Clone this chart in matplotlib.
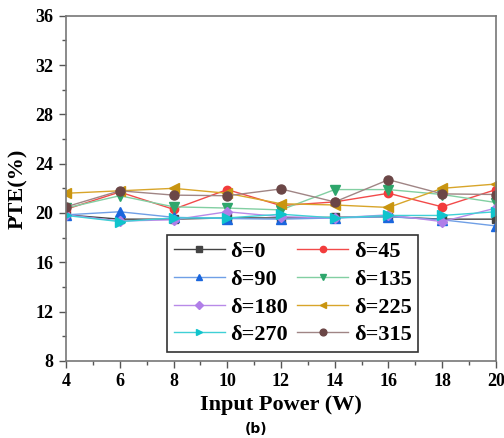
"""PTE versus input power for several phase offsets."""

import matplotlib.pyplot as plt
from matplotlib.ticker import MultipleLocator

power_w = [4, 6, 8, 10, 12, 14, 16, 18, 20]

pte_d0 = [19.85, 19.5, 19.5, 19.6, 19.6, 19.65, 19.7, 19.5, 19.5]
pte_d45 = [20.3, 21.7, 20.3, 21.9, 20.6, 20.9, 21.6, 20.5, 21.9]
pte_d90 = [19.85, 20.1, 19.65, 19.55, 19.5, 19.6, 19.7, 19.45, 18.95]
pte_d135 = [20.4, 21.4, 20.5, 20.4, 20.25, 21.9, 21.9, 21.5, 20.85]
pte_d180 = [19.85, 19.35, 19.45, 20.1, 19.7, 19.6, 19.85, 19.3, 20.4]
pte_d225 = [21.6, 21.8, 22.0, 21.6, 20.75, 20.65, 20.45, 22.0, 22.35]
pte_d270 = [19.8, 19.3, 19.6, 19.6, 19.9, 19.6, 19.8, 19.8, 20.1]
pte_d315 = [20.5, 21.8, 21.45, 21.4, 21.95, 20.9, 22.7, 21.55, 21.5]

labels = ["δ=0", "δ=45", "δ=90", "δ=135", "δ=180", "δ=225", "δ=270", "δ=315"]
series = [pte_d0, pte_d45, pte_d90, pte_d135, pte_d180, pte_d225, pte_d270, pte_d315]

# (line colour, marker colour, marker, marker size)
styles = [
    ("#444444", "#444444", "s", 5.5),
    ("#f24a4a", "#f23c3c", "o", 6),
    ("#6f9fe6", "#1a66dd", "^", 6.5),
    ("#82cfa2", "#2ea66c", "v", 6.5),
    ("#b88ae8", "#b07ee8", "D", 5),
    ("#d8a52a", "#c99510", "<", 6.5),
    ("#3fd0d6", "#10c4cc", ">", 6.5),
    ("#a08585", "#6b4646", "o", 6.5),
]

serif = ["Liberation Serif", "DejaVu Serif"]

fig = plt.figure(figsize=(5.04, 4.38), dpi=100)
ax = fig.add_axes([0.131, 0.176, 0.853, 0.788])

for vals, lab, (lc, mc, mk, ms) in zip(series, labels, styles):
    ax.plot(power_w, vals, color=lc, lw=1.0, marker=mk, ms=ms,
            markerfacecolor=mc, markeredgecolor=mc, label=lab)

ax.set_xlim(4, 20)
ax.set_ylim(8, 36)
ax.xaxis.set_major_locator(MultipleLocator(2))
ax.xaxis.set_minor_locator(MultipleLocator(1))
ax.yaxis.set_major_locator(MultipleLocator(4))
ax.yaxis.set_minor_locator(MultipleLocator(2))
ax.tick_params(which="major", direction="out", length=5, width=1, color="#555555", pad=4)
ax.tick_params(which="minor", direction="out", length=3, width=1, color="#555555")
ax.tick_params(top=False, right=False)
for sp in ax.spines.values():
    sp.set_color("#777777")
    sp.set_linewidth(1.2)

for lbl in ax.get_xticklabels() + ax.get_yticklabels():
    lbl.set_fontfamily(serif)
    lbl.set_fontweight("bold")
    lbl.set_fontsize(13)

ax.set_xlabel("Input Power (W)", fontfamily=serif, fontweight="bold", fontsize=16, labelpad=3)
ax.set_ylabel("PTE(%)", fontfamily=serif, fontweight="bold", fontsize=16, labelpad=5)

# legend laid out row by row: 0,45 / 90,135 / 180,225 / 270,315
order = [0, 2, 4, 6, 1, 3, 5, 7]
leg_handles = []
for i in order:
    (lh,) = ax.plot([], [], color=styles[i][0], lw=1.0, marker=styles[i][2],
                    ms=styles[i][3] * 0.75, markerfacecolor=styles[i][1],
                    markeredgecolor=styles[i][1])
    leg_handles.append(lh)
leg = ax.legend(leg_handles, [labels[i] for i in order],
                ncol=2, loc="lower left", bbox_to_anchor=(0.235, 0.026),
                borderaxespad=0, frameon=True, fancybox=False, edgecolor="black",
                prop={"family": serif, "weight": "bold", "size": 16},
                handlelength=2.3, columnspacing=0.4, labelspacing=0.32,
                handletextpad=0.25, borderpad=0.3)
leg.get_frame().set_linewidth(1.2)

fig.text(0.508, 0.021, "(b)", ha="center", va="center",
         fontsize=10, fontweight="bold", fontfamily="DejaVu Sans")

fig.savefig("out.png", dpi=100)
